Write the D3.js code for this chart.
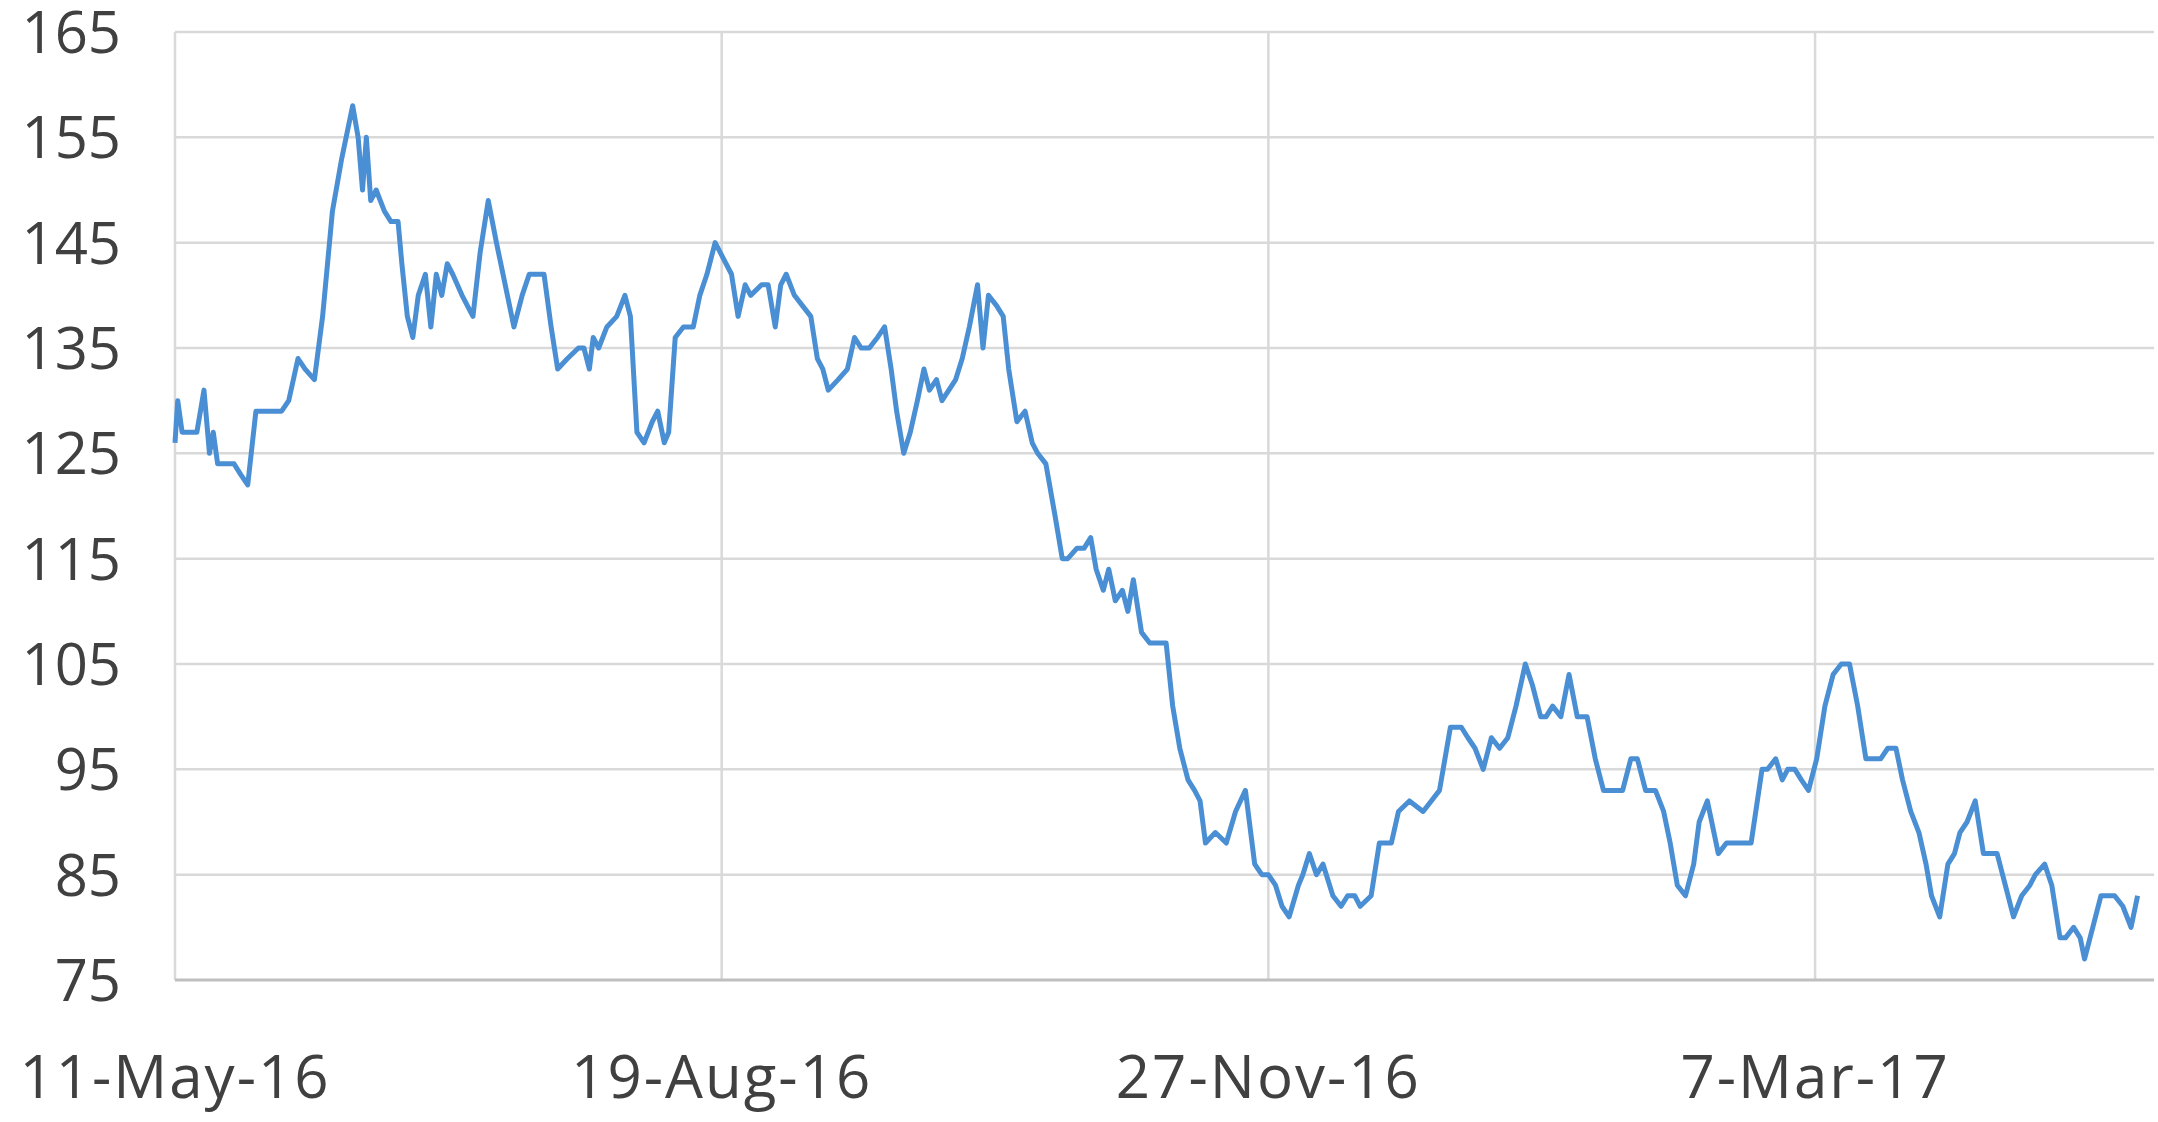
<!DOCTYPE html>
<html>
<head>
<meta charset="utf-8">
<script src="https://cdn.jsdelivr.net/npm/d3@7"></script>
<style>
  body { margin: 0; background: #fff; }
  text { font-family: "Open Sans", sans-serif; fill: #404040; }
</style>
</head>
<body>
<div id="chart"></div>
<script>
var startDate = new Date(2016, 4, 11);
var days = [0,0.5,1.3,3.3,4,5.3,6.3,7,7.8,9.5,10.8,12,13.3,14.8,15.8,17.8,19.5,20.8,22.5,23.8,25.5,27,28.8,30.5,32.5,33.5,34.3,35,35.8,36.8,38.3,39.5,40.8,41.5,42.5,43.5,44.5,45.8,46.8,47.8,48.8,49.8,50.8,52.5,54.5,55.8,57.3,58.8,60.8,62,63.5,64.8,67.5,68.8,70,71.8,73.8,74.8,75.8,76.5,77.5,79,80.8,82.3,83.3,84.5,85.8,87.3,88.3,89.5,90.3,91.5,93,94.8,96,97.3,98.8,99.8,101.8,103,104.3,105.3,107.3,108.5,109.8,110.8,111.8,113.3,114.8,116.3,117.5,118.5,119.5,121.3,123,124.3,125.5,127,128.5,129.8,131,132,133.3,134.5,135.8,137,138,139.3,140.3,142.8,144,145.3,146.8,147.8,148.8,150.3,151.5,152.5,154,155.5,156.8,157.8,159.3,161,162.3,163.3,165,166.3,167.5,168.5,169.8,170.8,172,173.3,174.3,175.3,176.8,178.3,179.8,181.3,182.5,183.8,185.3,186.5,187.5,188.5,190.3,192.3,194,195.8,197.5,198.8,200,201.3,202.5,203.8,205.5,206.3,207.5,208.8,210,211.8,213.3,214.5,215.8,216.8,218.8,220.3,221.3,222.5,223.8,225.8,228.3,229.8,231.3,233.3,235.3,236.5,237.8,239.3,240.8,242.3,243.8,245.3,247,248.3,249.8,250.8,252,253.5,255,256.5,258.3,259.8,261.3,262.8,263.8,264.8,266.3,267.5,269,270.8,272.3,273.5,274.8,276.3,277.8,278.8,280.3,282.3,283.8,285.3,286.3,288.3,290.3,291.3,292.8,294,295,296.3,297.5,298.8,300.3,301.8,303.3,304.8,306.3,307.8,309.3,310.8,312,313.3,314.8,316,317.5,319,320.3,321.3,322.8,324.3,325.5,326.5,327.8,329.3,330.8,332.3,333.3,334.8,336.3,337.8,339.3,340.3,342,343.3,344.8,345.8,347.3,348.5,349.3,350.8,352.3,353.8,354.8,356.3,357.8,359];
var values = [126,130,127,127,127,131,125,127,124,124,124,123,122,129,129,129,129,130,134,133,132,138,148,153,158,155,150,155,149,150,148,147,147,143,138,136,140,142,137,142,140,143,142,140,138,144,149,145,140,137,140,142,142,137,133,134,135,135,133,136,135,137,138,140,138,127,126,128,129,126,127,136,137,137,140,142,145,144,142,138,141,140,141,141,137,141,142,140,139,138,134,133,131,132,133,136,135,135,136,137,133,129,125,127,130,133,131,132,130,132,134,137,141,135,140,139,138,133,128,129,126,125,124,119,115,115,116,116,117,114,112,114,111,112,110,113,108,107,107,107,101,97,94,93,92,88,89,88,91,93,86,85,85,84,82,81,84,85,87,85,86,83,82,83,83,82,83,88,88,88,91,92,91,92,93,99,99,98,97,95,98,97,98,101,105,103,100,100,101,100,104,100,100,96,93,93,93,93,96,96,93,93,91,88,84,83,86,90,92,87,88,88,88,88,95,95,96,94,95,95,94,93,96,101,104,105,105,101,96,96,96,97,97,94,91,89,86,83,81,86,87,89,90,92,87,87,87,84,81,83,84,85,86,84,79,79,80,79,77,80,83,83,83,82,80,83,82,84];
var yTicks = [75,85,95,105,115,125,135,145,155,165];
var xTickDays = [0,100,200,300];
var xTickLabels = ["11-May-16","19-Aug-16","27-Nov-16","7-Mar-17"];

var W = 2158, H = 1122;
var m = {left: 175, right: 4, top: 32, bottom: 142};

function dayToDate(d) { return new Date(startDate.getTime() + d * 864e5); }

var svg = d3.select("#chart").append("svg").attr("width", W).attr("height", H);

var x = d3.scaleTime()
  .domain([startDate, dayToDate(362)])
  .range([m.left, W - m.right]);
var y = d3.scaleLinear().domain([75, 165]).range([H - m.bottom, m.top]);

// horizontal gridlines
svg.append("g").selectAll("line").data(yTicks.slice(1)).join("line")
  .attr("x1", m.left).attr("x2", W - m.right)
  .attr("y1", function(d){ return y(d); }).attr("y2", function(d){ return y(d); })
  .attr("stroke", "#d9d9d9").attr("stroke-width", 2.5);

// vertical gridlines
svg.append("g").selectAll("line").data(xTickDays).join("line")
  .attr("x1", function(d){ return x(dayToDate(d)); })
  .attr("x2", function(d){ return x(dayToDate(d)); })
  .attr("y1", m.top).attr("y2", H - m.bottom)
  .attr("stroke", "#d9d9d9").attr("stroke-width", 2.5);

// bottom axis line
svg.append("line")
  .attr("x1", m.left).attr("x2", W - m.right)
  .attr("y1", y(75)).attr("y2", y(75))
  .attr("stroke", "#bfbfbf").attr("stroke-width", 3);

// y labels
svg.append("g").selectAll("text").data(yTicks).join("text")
  .attr("x", 121).attr("y", function(d){ return y(d); })
  .attr("dy", "0.36em").attr("text-anchor", "end")
  .style("font-size", "58px")
  .text(function(d){ return d; });

// x labels
svg.append("g").selectAll("text").data(xTickDays).join("text")
  .attr("x", function(d){ return x(dayToDate(d)); })
  .attr("y", 1098).attr("text-anchor", "middle")
  .style("font-size", "60px").style("letter-spacing", "2px")
  .text(function(d, i){ return xTickLabels[i]; });

var line = d3.line()
  .x(function(d, i){ return x(dayToDate(days[i])); })
  .y(function(d){ return y(d); });

svg.append("path").datum(values)
  .attr("d", line)
  .attr("fill", "none")
  .attr("stroke", "#4a8fd4")
  .attr("stroke-width", 5)
  .attr("stroke-linejoin", "round");
</script>
</body>
</html>
